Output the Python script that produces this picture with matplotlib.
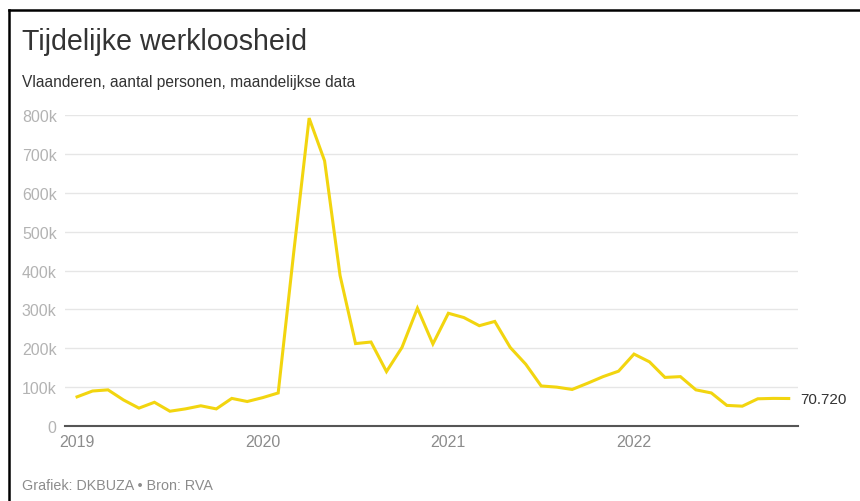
import matplotlib
matplotlib.use("Agg")
import matplotlib.pyplot as plt
from matplotlib.lines import Line2D
import numpy as np

plt.rcParams['font.family'] = ['Liberation Sans', 'DejaVu Sans']

# monthly values, jan 2019 - nov 2022
values = [75000, 90000, 93000, 67000, 46000, 61000, 38000, 44000, 52000, 44000, 71000, 63000,
          73000, 85000, 445000, 792000, 682000, 387000, 212000, 216000, 140000, 202000, 303000, 211000,
          290000, 279000, 258000, 269000, 202000, 159000, 103000, 100000, 94000, 110000, 127000, 141000,
          185000, 165000, 125000, 127000, 93000, 85000, 53000, 51000, 70000, 71000, 70720]
year_ticks = [0, 12, 24, 36]
year_labels = ["2019", "2020", "2021", "2022"]
y_ticks = [0, 100000, 200000, 300000, 400000, 500000, 600000, 700000, 800000]
y_labels = ["0", "100k", "200k", "300k", "400k", "500k", "600k", "700k", "800k"]
last_label = "70.720"

fig = plt.figure(figsize=(8.6, 5.02), dpi=100)
ax = fig.add_axes([65 / 860, 1 - 427 / 502, (798 - 65) / 860, (427 - 116) / 502])

months = np.arange(len(values))
ax.plot(months, values, color="#f2d50f", lw=2.2, clip_on=False, zorder=3,
        solid_joinstyle="miter")

ax.set_xlim(-0.78, 46.6)
ax.set_ylim(0, 800000)
ax.set_yticks(y_ticks)
ax.set_yticklabels(y_labels)
ax.set_xticks(year_ticks)
ax.set_xticklabels(year_labels)
ax.tick_params(axis="y", length=0, pad=6, labelsize=11.5, labelcolor="#b3b3b3")
ax.tick_params(axis="x", length=0, pad=5.5, labelsize=11.5, labelcolor="#8c8c8c")
ax.yaxis.grid(True, color="#e6e6e6", lw=1)
ax.set_axisbelow(True)
for s in ["top", "right", "left"]:
    ax.spines[s].set_visible(False)
ax.spines["bottom"].set_color("#555555")
ax.spines["bottom"].set_linewidth(1.5)
ax.spines["bottom"].set_zorder(2)

ax.annotate(last_label, xy=(months[-1], values[-1]), xytext=(8, 0),
            textcoords="offset points", va="center", ha="left",
            fontsize=11, color="#333333", annotation_clip=False)

fig.text(22 / 860, 1 - 42 / 502, "Tijdelijke werkloosheid", fontsize=20.6,
         color="#333333", va="center", ha="left")
fig.text(22 / 860, 1 - 82 / 502, "Vlaanderen, aantal personen, maandelijkse data",
         fontsize=11.2, color="#333333", va="center", ha="left")
fig.text(22 / 860, 1 - 486 / 502, "Grafiek: DKBUZA \u2022 Bron: RVA",
         fontsize=10.3, color="#8c8c8c", va="center", ha="left")

# screenshot frame on top and left
fig.add_artist(Line2D([9 / 860, 9 / 860], [0, 1 - 11 / 502], color="black", lw=1.8))
fig.add_artist(Line2D([9 / 860, 1], [1 - 11 / 502, 1 - 11 / 502], color="black", lw=1.8))

fig.savefig("out.png", dpi=100, facecolor="white")
